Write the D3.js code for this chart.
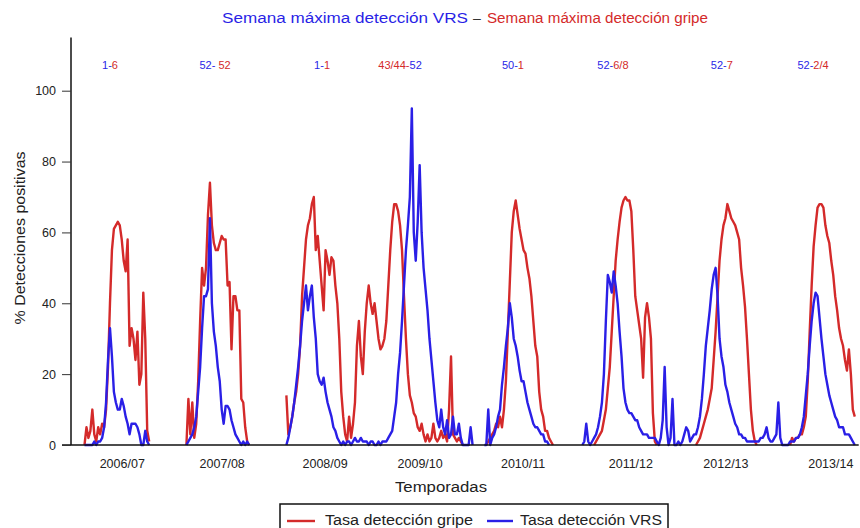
<!DOCTYPE html>
<html><head><meta charset="utf-8">
<script src="https://cdn.jsdelivr.net/npm/d3@7"></script>
<style>body{margin:0;background:#fff}svg{display:block}text{font-family:"Liberation Sans",Arial,sans-serif}</style>
</head><body><svg id="c" width="860" height="528"></svg>
<script>
// ---- data (weekly index 0 = week 40 of 2006) ----
const seasons = ["2006/07","2007/08","2008/09","2009/10","2010/11","2011/12","2012/13","2013/14"];
const seasonTickWeek = [19, 70, 122.5, 171, 223.5, 278.5, 327, 380.5];
const peakFirst  = ["1","52","1","43/44","50","52","52","52"];
const peakSecond = ["6","52","1","52","1","6/8","7","2/4"];
const peakFirstIsGripe = [false,false,false,true,false,false,false,false];
const peakWeek = [13, 66.6, 121.2, 161, 218.6, 269.6, 325.2, 371.7];
const yTicks = [0,20,40,60,80,100];

const gripe_2006_07 = [0,5,2,4,10,3,1,5,3,6,5,10,22,40,55,61,62,63,62,58,52,49,58,28,33,30,24,32,17,20,43,30,4,1];
const gripe_2007_08 = [0,13,3,12,2,6,18,35,50,45,50,65,74,62,57,55,55,57,59,58,58,45,46,27,42,42,38,38,13,12,5,1,0];
const gripe_2008_10 = [14,3,5,8,12,15,20,28,42,50,58,62,64,68,70,55,59,52,45,38,55,52,48,53,52,45,40,30,15,8,3,1,8,2,6,12,28,35,25,20,32,40,45,40,37,40,35,30,27,28,30,35,45,55,63,68,68,66,62,55,42,30,20,14,12,9,8,5,4,6,3,1,3,1,2,6,2,1,2,4,2,3,1,10,25,3,2,1,2,1,0];
const gripe_2010_11 = [0,1,2,3,4,6,5,8,5,10,18,32,46,60,66,69,65,61,58,55,54,50,47,42,35,28,25,15,10,8,4,4,2,1,0];
const gripe_2011_12 = [0,1,2,3,4,7,10,16,22,32,42,52,58,63,67,69,70,69,69,66,55,42,38,34,30,19,36,40,36,30,9,1,0];
const gripe_2012_13 = [0,1,2,4,6,8,10,13,16,24,32,42,52,58,62,64,68,66,64,63,62,60,58,50,45,39,30,20,10,4,1,0];
const gripe_2013_14 = [0,2,1,2,2,3,3,5,8,18,32,45,56,62,67,68,68,67,62,59,57,52,48,42,38,33,30,28,24,21,27,20,10,8];
const gripeStarts = [0,52,103,205,260,312,360];

const vrs_2006_07 = [0,0,0,0,0,1,0,1,1,2,5,12,24,33,25,15,12,10,10,13,11,8,6,3,6,6,6,5,3,0,0,4,1,0];
const vrs_2007_08 = [0,1,2,3,5,8,15,22,33,42,42,44,64,40,32,28,22,18,10,6,11,11,10,7,5,3,2,1,0,1,0,1,0];
const vrs_2008_10 = [0,2,5,8,12,17,22,28,35,40,45,38,42,45,36,30,20,18,17,19,15,12,10,8,5,4,2,1,0,1,0,1,1,0,1,2,1,1,2,1,1,1,0,1,1,0,0,1,0,1,1,1,2,3,4,8,12,20,26,35,45,55,62,70,95,60,52,63,79,60,50,44,38,30,24,18,12,7,5,10,5,3,7,2,3,8,3,3,6,2,0,0,0,0,5,0];
const vrs_2010_11 = [0,0,10,0,2,3,5,8,10,17,22,28,33,40,36,30,28,25,21,18,18,15,12,10,8,6,5,5,4,3,3,1,1,0];
const vrs_2011_12 = [0,1,6,1,0,1,2,3,5,8,12,20,35,48,46,43,49,45,40,32,25,16,12,10,9,9,8,7,7,5,4,3,3,3,2,2,2,2,1,0,2,7,22,5,0,2,13,0,0,1,0];
const vrs_2012_13 = [1,3,5,4,1,2,3,3,5,8,13,20,28,33,38,44,48,50,42,30,25,22,17,15,12,10,8,6,5,3,3,2,2,1,1,1,1,1,1,1,2,2,3,5,2,1,1,2,3,12,2,0];
const vrs_2013_14 = [0,0,0,1,1,1,2,2,3,5,8,14,20,28,35,40,43,42,36,30,25,20,17,14,12,10,8,7,5,5,5,3,3,3,2,1,0];
const vrsStarts = [0,52,103,204,254,305,357];

// ---- build weekly series with gaps ----
const NW = 400;
function build(parts, starts){
  const arr = new Array(NW).fill(null);
  parts.forEach((p,k)=>p.forEach((v,j)=>{arr[starts[k]+j]=v;}));
  return arr.map((v,i)=>({i, v}));
}
const gripe = build([gripe_2006_07,gripe_2007_08,gripe_2008_10,gripe_2010_11,gripe_2011_12,gripe_2012_13,gripe_2013_14], gripeStarts);
const vrs = build([vrs_2006_07,vrs_2007_08,vrs_2008_10,vrs_2010_11,vrs_2011_12,vrs_2012_13,vrs_2013_14], vrsStarts);

const RED = "#d42a2a", BLUE = "#2a1fe6";
const svg = d3.select("#c");
const x = d3.scaleLinear().domain([0, NW]).range([84.5, 84.5 + 1.96*NW]);
const y = d3.scaleLinear().domain([0, 100]).range([445, 90.7]);

// lines
const line = d3.line().defined(d=>d.v!==null).x(d=>x(d.i)).y(d=>y(d.v));
svg.append("path").datum(gripe).attr("d", line).attr("fill","none").attr("stroke",RED).attr("stroke-width",2.4).attr("stroke-linejoin","round");
svg.append("path").datum(vrs).attr("d", line).attr("fill","none").attr("stroke",BLUE).attr("stroke-width",2.4).attr("stroke-linejoin","round");

// axes lines
svg.append("line").attr("x1",71).attr("x2",71).attr("y1",y(115)).attr("y2",y(0)).attr("stroke","#111").attr("stroke-width",1.5);
svg.append("line").attr("x1",62).attr("x2",x(395)).attr("y1",y(0)).attr("y2",y(0)).attr("stroke","#111").attr("stroke-width",1.5);

// y axis
const ya = svg.append("g").attr("transform","translate(71,0)")
  .call(d3.axisLeft(y).tickValues(yTicks).tickSize(9).tickPadding(6).tickSizeOuter(0));
ya.select(".domain").remove();
ya.selectAll("line").attr("stroke","#333");
ya.selectAll("text").attr("font-size",12.5).attr("fill","#222").attr("font-family",'"Liberation Sans",Arial,sans-serif');

// x axis labels
const xa = svg.append("g").attr("transform","translate(0,445)")
  .call(d3.axisBottom(x).tickValues(seasonTickWeek).tickFormat((d,k)=>seasons[k]).tickSize(0).tickPadding(14));
xa.select(".domain").remove();
xa.selectAll("text").attr("font-size",12.5).attr("fill","#222").attr("font-family",'"Liberation Sans",Arial,sans-serif');

// axis titles
svg.append("text").attr("x",441).attr("y",492).attr("text-anchor","middle").attr("font-size",14)
  .attr("textLength",92).attr("lengthAdjust","spacingAndGlyphs").attr("fill","#222").text("Temporadas");
svg.append("text").attr("transform","translate(25,238) rotate(-90)").attr("text-anchor","middle").attr("font-size",14)
  .attr("textLength",173).attr("lengthAdjust","spacingAndGlyphs").attr("fill","#222").text("% Detecciones positivas");

// title
svg.append("text").attr("x",222).attr("y",23).attr("font-size",14).attr("fill",BLUE)
  .attr("textLength",246).attr("lengthAdjust","spacingAndGlyphs").text("Semana máxima detección VRS");
svg.append("text").attr("x",477).attr("y",23).attr("text-anchor","middle").attr("font-size",14).attr("fill","#333").text("–");
svg.append("text").attr("x",487).attr("y",23).attr("font-size",14).attr("fill",RED)
  .attr("textLength",221).attr("lengthAdjust","spacingAndGlyphs").text("Semana máxima detección gripe");

// peak labels
peakWeek.forEach((w,k)=>{
  const t = svg.append("text").attr("x",x(w)).attr("y",69).attr("text-anchor","middle").attr("font-size",11);
  const c1 = peakFirstIsGripe[k] ? RED : BLUE, c2 = peakFirstIsGripe[k] ? BLUE : RED;
  t.append("tspan").attr("fill",c1).text(peakFirst[k]);
  t.append("tspan").attr("fill",c1).text(k===1 ? "- " : "-");
  t.append("tspan").attr("fill",c2).text(peakSecond[k]);
});

// legend
const lg = svg.append("g");
lg.append("rect").attr("x",280).attr("y",504).attr("width",388).attr("height",40).attr("fill","#fff").attr("stroke","#111").attr("stroke-width",1.5);
lg.append("line").attr("x1",287).attr("x2",315).attr("y1",521).attr("y2",521).attr("stroke",RED).attr("stroke-width",2.4);
lg.append("text").attr("x",325).attr("y",525).attr("font-size",14).attr("fill","#222")
  .attr("textLength",148).attr("lengthAdjust","spacingAndGlyphs").text("Tasa detección gripe");
lg.append("line").attr("x1",487).attr("x2",513).attr("y1",521).attr("y2",521).attr("stroke",BLUE).attr("stroke-width",2.4);
lg.append("text").attr("x",520).attr("y",525).attr("font-size",14).attr("fill","#222")
  .attr("textLength",142).attr("lengthAdjust","spacingAndGlyphs").text("Tasa detección VRS");
</script></body></html>
